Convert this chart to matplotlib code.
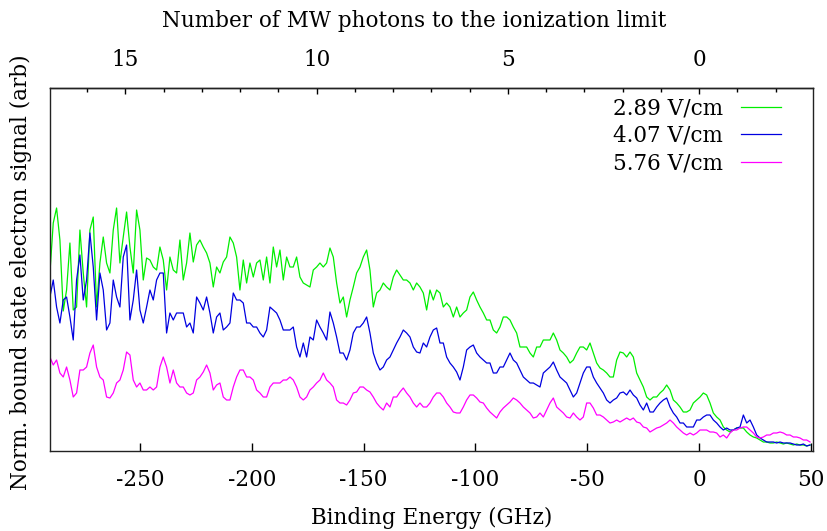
import matplotlib
matplotlib.use('Agg')
import matplotlib.pyplot as plt
import numpy as np

plt.rcParams['font.family'] = ['DejaVu Serif', 'Liberation Serif']
plt.rcParams['axes.unicode_minus'] = False

# photon energy of the microwave field (GHz), used for the top axis
MW_GHZ = 17.1

# binding energy scan (GHz), uniform steps
energy = np.linspace(-290.24, 49.64, 229)

# normalised bound state signal (arb)
sig_289 = [
    178, 228, 243, 211, 140, 161, 208, 141, 144, 221, 178, 144, 221, 234, 144, 188, 214, 188,
    178, 221, 243, 188, 214, 239, 204, 178, 241, 221, 171, 193, 191, 184, 181, 204, 191, 161,
    194, 181, 178, 211, 171, 188, 218, 189, 206, 211, 204, 198, 188, 164, 184, 178, 189, 194,
    214, 208, 194, 161, 191, 168, 188, 174, 188, 191, 171, 194, 168, 204, 184, 201, 171, 194,
    184, 184, 194, 174, 168, 166, 164, 181, 184, 188, 184, 188, 203, 194, 168, 148, 154, 134,
    151, 164, 178, 184, 194, 201, 181, 144, 158, 161, 168, 164, 161, 174, 181, 176, 171, 171,
    168, 161, 168,
    164, 158, 141, 161, 151, 161, 158, 144, 148, 144, 134, 144, 134, 138, 141, 154, 159, 151,
    144, 138, 131, 131, 121, 118, 124, 134, 134, 131, 124, 118, 104, 104, 104, 98, 94, 104,
    104, 111, 111, 111, 118, 111, 101, 98, 94, 88, 91, 98, 104, 104, 101, 108, 98, 88,
    83, 81, 78, 74, 74, 91, 99, 98, 94, 99, 94, 78, 71, 64, 54, 51, 54, 54, 58, 61, 66, 61,
    51, 48, 44, 39, 39, 41, 48, 51, 54, 58, 56, 48, 38, 34, 31, 24, 21, 19, 21, 23, 23, 23,
    19, 16, 14, 13, 11, 9, 9, 8, 8, 9, 8, 7, 8, 7, 6, 7, 6, 6, 5, 6,
]
sig_407 = [
    154, 171, 144, 128, 151, 154, 134, 111, 171, 196, 151, 171, 218, 184, 131, 178, 161, 121,
    128, 171, 154, 144, 194, 206, 131, 151, 181, 141, 128, 144, 161, 151, 171, 178, 178, 118,
    138, 131, 138, 138, 138, 124, 128, 118, 154, 148, 141, 154, 138, 118, 134, 138, 121, 124,
    128, 158, 151, 151, 148, 128, 128, 124, 124, 118, 114, 121, 144, 141, 138, 131, 121, 121,
    121, 124, 104, 94, 108, 94, 114, 111, 131, 124, 118, 111, 139, 128, 114, 98, 98, 91,
    101, 118, 124, 124, 128, 134, 118, 98, 88, 81, 84, 91, 94, 101, 108, 114, 121, 118,
    114, 104, 99,
    98, 108, 104, 114, 121, 123, 108, 108, 94, 88, 84, 79, 71, 84, 101, 104, 106, 98,
    94, 91, 88, 88, 78, 78, 84, 84, 91, 98, 91, 88, 81, 74, 71, 68, 68, 66,
    64, 78, 81, 84, 89, 81, 74, 71, 68, 61, 54, 58, 68, 78, 84, 84, 74, 68,
    63, 58, 51, 48, 51, 53, 58, 59, 56, 61, 56, 53, 46, 41, 48, 39, 39, 44, 48, 51, 53, 44,
    38, 34, 28, 28, 24, 24, 24, 31, 31, 34, 36, 36, 31, 28, 24, 21, 23, 21, 21, 23, 24, 36,
    28, 31, 24, 16, 13, 11, 9, 9, 9, 8, 9, 8, 8, 8, 7, 6, 6, 7, 5, 6,
]
sig_576 = [
    94, 86, 91, 78, 74, 84, 71, 54, 58, 81, 81, 84, 98, 106, 84, 74, 71, 54,
    53, 58, 68, 71, 81, 99, 96, 71, 64, 68, 61, 61, 64, 61, 64, 84, 94, 84,
    68, 81, 68, 64, 64, 58, 56, 58, 71, 74, 79, 86, 78, 61, 66, 68, 54, 51,
    51, 64, 74, 81, 81, 74, 74, 71, 61, 58, 54, 54, 64, 68, 68, 68, 71, 71,
    74, 71, 64, 54, 51, 54, 61, 64, 68, 71, 78, 71, 68, 64, 51, 48, 48, 46,
    51, 58, 59, 64, 64, 61, 59, 54, 48, 44, 41, 48, 44, 54, 54, 59, 63, 58,
    54, 48, 44,
    48, 44, 44, 48, 54, 58, 58, 54, 48, 44, 39, 38, 38, 44, 51, 56, 56, 53,
    49, 48, 43, 39, 36, 33, 39, 43, 46, 49, 53, 51, 48, 44, 41, 38, 33, 34,
    38, 34, 41, 48, 53, 44, 41, 38, 34, 33, 38, 34, 31, 34, 48, 48, 43, 36,
    36, 34, 31, 28, 29, 31, 29, 31, 33, 31, 33, 29, 28, 24, 23, 19, 21, 23, 24, 26, 28, 31,
    28, 24, 21, 18, 16, 18, 16, 18, 21, 21, 21, 19, 19, 18, 14, 16, 13, 18, 21, 21, 23, 24,
    24, 21, 18, 14, 13, 14, 16, 16, 18, 18, 19, 18, 16, 16, 14, 14, 13, 11, 11, 9,
]

labels = ['2.89 V/cm', '4.07 V/cm', '5.76 V/cm']
colors = ['#00ee00', '#0000e0', '#ff00ff']

fig = plt.figure(figsize=(8.28, 5.31), dpi=100)
ax = fig.add_axes([50 / 828, 1 - 451 / 531, 763.3 / 828, 363 / 531])

for sig, col, lab in zip([sig_289, sig_407, sig_576], colors, labels):
    ax.plot(energy, sig, color=col, lw=0.9, label=lab)

ax.set_xlim(-290.2, 51.1)
ax.set_ylim(0, 363)
ax.set_yticks([])
ax.set_xticks([-250, -200, -150, -100, -50, 0, 50])
ax.tick_params(axis='x', direction='in', length=5.5, width=1, labelsize=15.5, pad=13, top=False)
for sp in ax.spines.values():
    sp.set_linewidth(1.0)
    sp.set_color('#222222')

# top axis: number of photons to the ionization limit
secax = ax.secondary_xaxis('top', functions=(lambda e: -e / MW_GHZ, lambda n: -n * MW_GHZ))
secax.set_xticks([0, 5, 10, 15])
secax.set_xticks(range(-3, 18), minor=True)
secax.tick_params(which='major', direction='in', length=4, width=1, labelsize=15.5, pad=12)
secax.tick_params(which='minor', direction='in', length=3, width=1)
secax.spines['top'].set_linewidth(1.0)

ax.set_xlabel('Binding Energy (GHz)', fontsize=15.5)
ax.xaxis.set_label_coords(0.5, -(518 - 451) / 363)
ax.xaxis.label.set_va('center')

ax.set_ylabel('Norm. bound state electron signal (arb)', fontsize=15.5)
ax.yaxis.set_label_coords((20.5 - 50) / 763.3, (451 - 272) / 363)
ax.yaxis.label.set_va('center')

secax.set_xlabel('Number of MW photons to the ionization limit', fontsize=15.5)
secax.xaxis.set_label_coords((414 - 50) / 763.3, (451 - 20.5) / 363, transform=ax.transAxes)
secax.xaxis.label.set_va('center')

ax.legend(loc='upper right', bbox_to_anchor=((785.4 - 50) / 763.3, (451 - 93.5) / 363),
          borderaxespad=0, borderpad=0.2, frameon=False, markerfirst=False, fontsize=15.5,
          handlelength=1.85, handletextpad=0.85, labelspacing=0.24)

fig.savefig('out.png', dpi=100)
